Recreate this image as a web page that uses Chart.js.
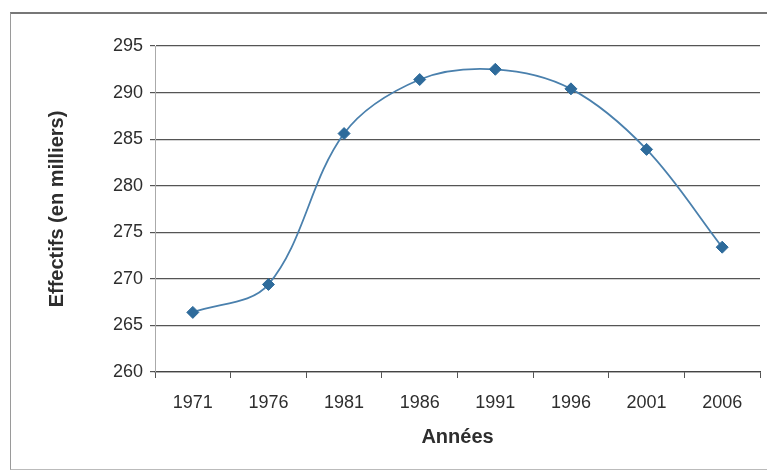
<!DOCTYPE html>
<html>
<head>
<meta charset="utf-8">
<title>Effectifs</title>
<script src="https://cdn.jsdelivr.net/npm/chart.js@4.4.1/dist/chart.umd.min.js"></script>
<style>
    html, body { margin: 0; padding: 0; background: #fff; }
    #frame {
        position: absolute; left: 10px; top: 12px; width: 770px; height: 455px;
        border-left: 1px solid #9a9a9a; border-top: 2px solid #777; border-bottom: 1px solid #bbb;
    }
    #wrap { position: absolute; left: 0; top: 0; width: 767px; height: 471px; }
</style>
</head>
<body>
<div id="frame"></div>
<div id="wrap"><canvas id="chart" width="767" height="471"></canvas></div>
<script>
    // Data
    const years = ['1971', '1976', '1981', '1986', '1991', '1996', '2001', '2006'];
    const effectifs = [266.4, 269.4, 285.6, 291.4, 292.5, 290.4, 283.9, 273.4];
    const yMin = 260;
    const yMax = 295;
    const yStep = 5;

    const textColor = '#2e2e2e';
    const lineColor = '#4a80ad';
    const markerColor = '#2e6b9b';
    const fontFamily = 'Liberation Sans, Arial, sans-serif';

    new Chart(document.getElementById('chart'), {
        type: 'line',
        data: {
            labels: years,
            datasets: [{
                data: effectifs,
                borderColor: lineColor,
                borderWidth: 1.8,
                tension: 0.35,
                fill: false,
                pointStyle: 'rectRot',
                pointRadius: 6,
                pointBackgroundColor: markerColor,
                pointBorderColor: markerColor,
                pointBorderWidth: 1
            }]
        },
        options: {
            responsive: false,
            animation: false,
            layout: { padding: { top: 46, right: 4, bottom: 0, left: 10 } },
            plugins: {
                legend: { display: false },
                tooltip: { enabled: false }
            },
            scales: {
                x: {
                    offset: true,
                    afterFit: (s) => { s.height = 99; },
                    grid: {
                        offset: true,
                        drawOnChartArea: false,
                        drawTicks: true,
                        tickLength: 6,
                        color: '#555'
                    },
                    border: { color: '#444', width: 1.2 },
                    ticks: {
                        color: textColor,
                        padding: 14,
                        maxRotation: 0,
                        font: { family: fontFamily, size: 18 }
                    },
                    title: {
                        display: true,
                        text: 'Années',
                        color: textColor,
                        padding: { top: 4, bottom: 22 },
                        font: { family: fontFamily, size: 20, weight: 'bold' }
                    }
                },
                y: {
                    min: yMin,
                    max: yMax,
                    afterFit: (s) => { s.width = 145; },
                    ticks: {
                        stepSize: yStep,
                        color: textColor,
                        padding: 7,
                        font: { family: fontFamily, size: 18 }
                    },
                    grid: {
                        color: '#555',
                        lineWidth: 1.2,
                        tickLength: 5
                    },
                    border: { color: '#aaa', width: 1 },
                    title: {
                        display: true,
                        text: 'Effectifs (en milliers)',
                        color: textColor,
                        padding: { top: 35, bottom: 0 },
                        font: { family: fontFamily, size: 20, weight: 'bold' }
                    }
                }
            }
        }
    });
</script>
</body>
</html>
